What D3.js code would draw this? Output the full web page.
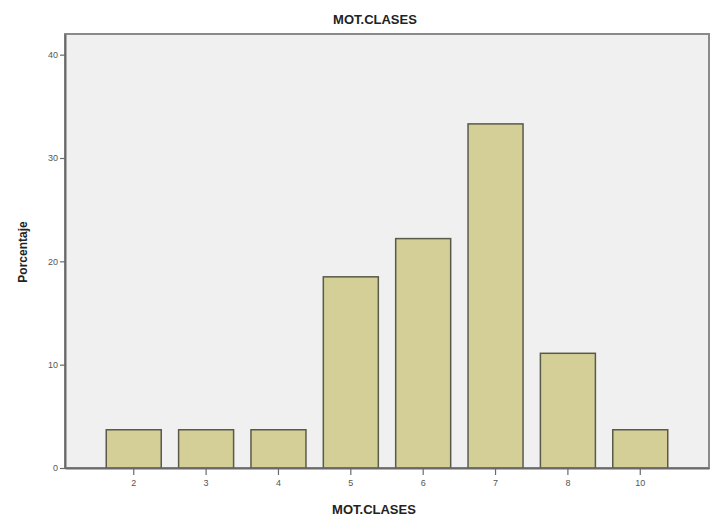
<!DOCTYPE html>
<html><head><meta charset="utf-8">
<script src="https://cdn.jsdelivr.net/npm/d3@7"></script>
<style>body{margin:0;background:#fff;}svg{display:block;}</style>
</head><body>
<script>
const categories = ["2","3","4","5","6","7","8","10"];
const percentages = [3.7, 3.7, 3.7, 18.5, 22.2, 33.3, 11.1, 3.7];
const yTicks = [0, 10, 20, 30, 40];
const title = "MOT.CLASES";
const xTitle = "MOT.CLASES";
const yTitle = "Porcentaje";

const W = 717, H = 518;
const m = {left: 65, right: 8, top: 34, bottom: 50};
const svg = d3.select("body").append("svg").attr("width", W).attr("height", H);

const x = d3.scaleBand().domain(categories).range([m.left, W - m.right]).paddingInner(0.24).paddingOuter(0.57);
const y = d3.scaleLinear().domain([0, 42]).range([H - m.bottom, m.top]);

svg.append("rect").attr("x", m.left).attr("y", m.top)
  .attr("width", W - m.right - m.left).attr("height", H - m.bottom - m.top)
  .attr("fill", "#f0f0f0").attr("stroke", "#8a8a8a").attr("stroke-width", 2);

svg.selectAll("rect.bar").data(categories).enter().append("rect").attr("class", "bar")
  .attr("x", d => x(d)).attr("width", x.bandwidth())
  .attr("y", (d, i) => y(percentages[i])).attr("height", (d, i) => y(0) - y(percentages[i]))
  .attr("fill", "#d3cf97").attr("stroke", "#5a5a4a").attr("stroke-width", 1.5);

const yAxis = svg.append("g").attr("transform", `translate(${m.left},0)`)
  .call(d3.axisLeft(y).tickValues(yTicks).tickSize(5).tickSizeOuter(0));
const xAxis = svg.append("g").attr("transform", `translate(0,${H - m.bottom})`)
  .call(d3.axisBottom(x).tickSize(7).tickSizeOuter(0));
[yAxis, xAxis].forEach(g => {
  g.select(".domain").attr("stroke", "#6a6a6a").attr("stroke-width", 2);
  g.selectAll(".tick line").attr("stroke", "#6a6a6a").attr("stroke-width", 1.2);
  g.selectAll("text").attr("fill", "#555").attr("font-family", "Liberation Sans, Arial, sans-serif").attr("font-size", 9);
});
xAxis.selectAll("text").attr("dy", "0.9em");
yAxis.selectAll("text").attr("dx", "0.1em");

svg.append("text").attr("x", 375).attr("y", 24).attr("text-anchor", "middle")
  .attr("font-family", "Liberation Sans, Arial, sans-serif").attr("font-weight", "bold").attr("font-size", 13)
  .attr("fill", "#222").text(title);
svg.append("text").attr("x", 374).attr("y", 514).attr("text-anchor", "middle")
  .attr("font-family", "Liberation Sans, Arial, sans-serif").attr("font-weight", "bold").attr("font-size", 13)
  .attr("fill", "#222").text(xTitle);
svg.append("text").attr("transform", "translate(27,252) rotate(-90)").attr("text-anchor", "middle")
  .attr("font-family", "Liberation Sans, Arial, sans-serif").attr("font-weight", "bold").attr("font-size", 12)
  .attr("fill", "#222").text(yTitle);
</script>
</body></html>
